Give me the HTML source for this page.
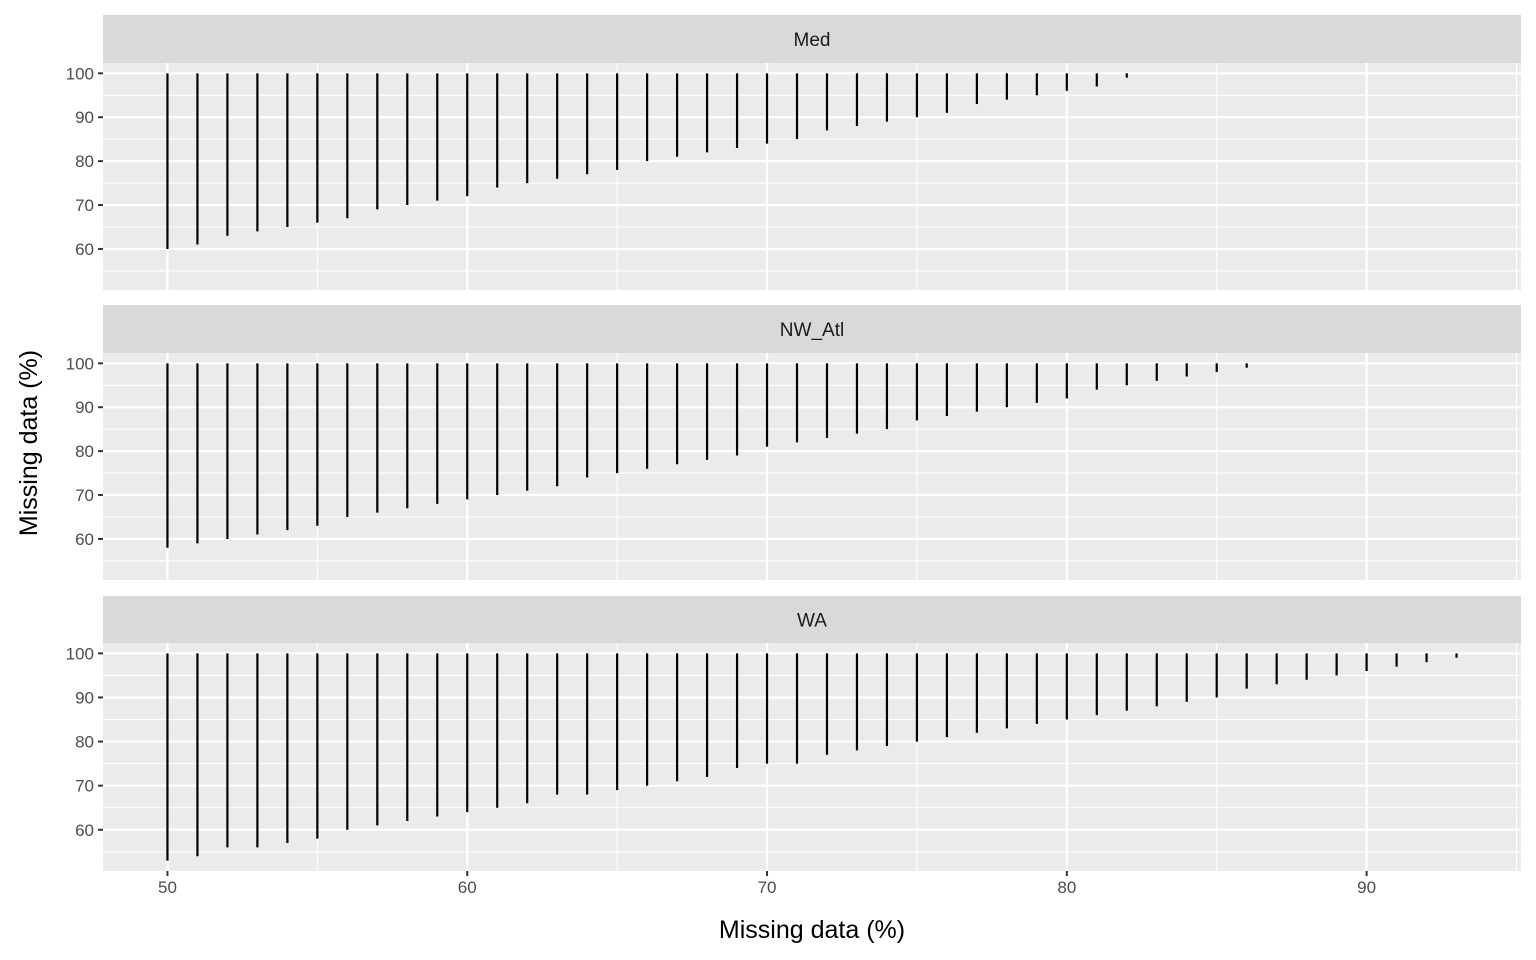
<!DOCTYPE html>
<html><head><meta charset="utf-8"><style>
body{margin:0;background:#fff;}
svg{display:block;font-family:"Liberation Sans",sans-serif;}
</style></head><body>
<svg id="c" width="1536" height="960"></svg>
<script>
const xs=[50,51,52,53,54,55,56,57,58,59,60,61,62,63,64,65,66,67,68,69,70,71,72,73,74,75,76,77,78,79,80,81,82,83,84,85,86,87,88,89,90,91,92,93];
const panelNames=["Med","NW_Atl","WA"];
const medLow=[60,61,63,64,65,66,67,69,70,71,72,74,75,76,77,78,80,81,82,83,84,85,87,88,89,90,91,93,94,95,96,97,99];
const nwLow=[58,59,60,61,62,63,65,66,67,68,69,70,71,72,74,75,76,77,78,79,81,82,83,84,85,87,88,89,90,91,92,94,95,96,97,98,99];
const waLow=[53,54,56,56,57,58,60,61,62,63,64,65,66,68,68,69,70,71,72,74,75,75,77,78,79,80,81,82,83,84,85,86,87,88,89,90,92,93,94,95,96,97,98,99];
const highVal=100;
const xTicks=[50,60,70,80,90];
const xMinor=[55,65,75,85,95];
const yTicks=[60,70,80,90,100];
const yMinor=[55,65,75,85,95];
const lows=[medLow,nwLow,waLow];

const NS="http://www.w3.org/2000/svg";
const svg=document.getElementById('c');
function mk(t,a,p){const e=document.createElementNS(NS,t);for(const k in a)e.setAttribute(k,a[k]);(p||svg).appendChild(e);return e;}
const L=103,R=1521;
const xMin=47.85,xMax=95.15;
const X=v=>L+(v-xMin)/(xMax-xMin)*(R-L);
const yMin=50.65,yMax=102.35;
const panels=[{s:15,t:63,b:290},{s:305,t:353,b:580},{s:596,t:643,b:871}];
panels.forEach((p,i)=>{
  const Y=v=>p.b-(v-yMin)/(yMax-yMin)*(p.b-p.t);
  const g=mk('g',{});
  
  
  const strip=mk('rect',{x:L,y:p.s,width:R-L,height:p.t-p.s,fill:'#d9d9d9'},g);
  
  const st=mk('text',{x:(L+R)/2,y:(p.s+p.t)/2+7,'text-anchor':'middle','font-size':19,fill:'#1a1a1a'},g);
  st.textContent=panelNames[i];
  
  const bg=mk('rect',{x:L,y:p.t,width:R-L,height:p.b-p.t,fill:'#ebebeb'},g);
  
  xMinor.forEach(v=>{mk('line',{x1:X(v),x2:X(v),y1:p.t,y2:p.b,stroke:'#fff','stroke-width':1.1},g);});
  yMinor.forEach(v=>{mk('line',{x1:L,x2:R,y1:Y(v),y2:Y(v),stroke:'#fff','stroke-width':1.1},g);});
  xTicks.forEach(v=>{mk('line',{x1:X(v),x2:X(v),y1:p.t,y2:p.b,stroke:'#fff','stroke-width':2.2},g);});
  yTicks.forEach(v=>{
    mk('line',{x1:L,x2:R,y1:Y(v),y2:Y(v),stroke:'#fff','stroke-width':2.2},g);
    mk('line',{x1:L-5,x2:L,y1:Y(v),y2:Y(v),stroke:'#333','stroke-width':2},g);
    const t=mk('text',{x:L-9,y:Y(v)+6,'text-anchor':'end','font-size':17,fill:'#4d4d4d'},g);
    t.textContent=v;
    
  });
  lows[i].forEach((lo,j)=>{
    const s=mk('line',{x1:X(xs[j]),x2:X(xs[j]),y1:Y(lo),y2:Y(highVal),stroke:'#000','stroke-width':2.2},g);
    
    
  });
  if(i===2){
    xTicks.forEach(v=>{
      mk('line',{x1:X(v),x2:X(v),y1:p.b,y2:p.b+5,stroke:'#333','stroke-width':2},g);
      const t=mk('text',{x:X(v),y:p.b+22,'text-anchor':'middle','font-size':17,fill:'#4d4d4d'},g);
      t.textContent=v;
      
    });
  }
});
const xt=mk('text',{x:(L+R)/2,y:938,'text-anchor':'middle','font-size':25,fill:'#000'});
xt.textContent='Missing data (%)';

const yt=mk('text',{x:0,y:0,'text-anchor':'middle','font-size':25,fill:'#000',transform:'translate(37,443) rotate(-90)'});
yt.textContent='Missing data (%)';

</script>
</body></html>
